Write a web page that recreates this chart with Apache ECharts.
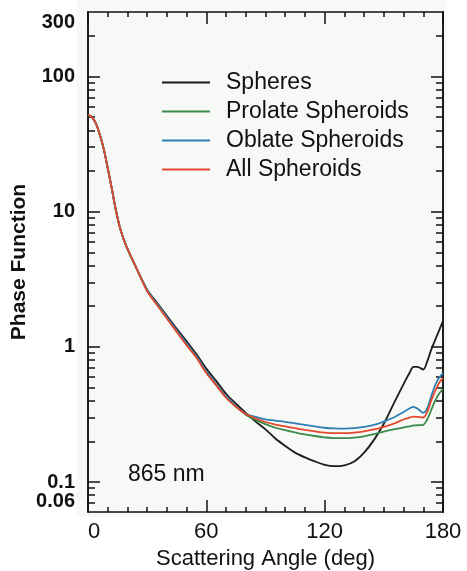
<!DOCTYPE html>
<html>
<head>
<meta charset="utf-8">
<script src="https://cdn.jsdelivr.net/npm/echarts@6.0.0/dist/echarts.min.js"></script>
<style>
  html, body { margin: 0; padding: 0; background: #ffffff; }
  #chart { width: 467px; height: 571px; }
</style>
</head>
<body>
<div id="chart"></div>
<script>
// scattering angles (deg)
var angles = [0, 2, 4, 6, 8, 10, 12, 14, 16, 18, 20, 25, 30, 35, 40, 45, 50, 55, 60, 65, 70, 75, 80,
    85, 90, 95, 100, 105, 110, 115, 120, 125, 130, 135, 140, 145, 150, 155, 160, 163, 165, 167, 170,
    172, 174, 176, 178, 180];

// forward part shared by all curves (0..25 deg)
var forward = [52, 50, 45, 37, 29, 21, 15, 10.5, 7.8, 6.3, 5.3, 3.7];

var spheres = forward.concat([2.65, 2.12, 1.7, 1.36, 1.1, 0.88, 0.69, 0.56, 0.45, 0.38, 0.325,
    0.28, 0.245, 0.21, 0.185, 0.165, 0.152, 0.142, 0.134, 0.131, 0.133, 0.142, 0.165, 0.205, 0.27,
    0.38, 0.53, 0.64, 0.71, 0.71, 0.68, 0.78, 0.95, 1.12, 1.32, 1.55]);

var prolate = forward.concat([2.6, 2.06, 1.64, 1.3, 1.04, 0.84, 0.65, 0.52, 0.425, 0.362, 0.315,
    0.288, 0.268, 0.252, 0.242, 0.233, 0.225, 0.219, 0.214, 0.211, 0.211, 0.213, 0.218, 0.226, 0.236,
    0.245, 0.253, 0.258, 0.262, 0.263, 0.265, 0.29, 0.34, 0.4, 0.45, 0.49]);

var oblate = forward.concat([2.62, 2.08, 1.66, 1.32, 1.06, 0.85, 0.66, 0.53, 0.43, 0.365, 0.32,
    0.303, 0.291, 0.285, 0.279, 0.272, 0.265, 0.258, 0.252, 0.249, 0.248, 0.25, 0.256, 0.265, 0.28,
    0.3, 0.33, 0.35, 0.36, 0.35, 0.325, 0.35, 0.43, 0.52, 0.59, 0.64]);

var allSph = forward.concat([2.58, 2.04, 1.62, 1.29, 1.03, 0.83, 0.64, 0.52, 0.42, 0.36, 0.318,
    0.295, 0.278, 0.266, 0.258, 0.25, 0.243, 0.237, 0.232, 0.23, 0.23, 0.232, 0.237, 0.245, 0.256,
    0.27, 0.29, 0.3, 0.305, 0.303, 0.3, 0.33, 0.4, 0.47, 0.54, 0.59]);

var seriesNames = ['Spheres', 'Prolate Spheroids', 'Oblate Spheroids', 'All Spheroids'];
var seriesColors = ['#1b1b1b', '#3a8a4c', '#2f7fb4', '#e2492c'];

// y ticks (the 0.06 label sits on its own axis so it is not hidden next to 0.1)
var yLabels = [0.1, 1, 10, 100, 300];
var yMinLabel = [0.0601];
var yMajor = [0.1, 1, 10, 100];
var yMinor = [0.07, 0.08, 0.09, 0.2, 0.3, 0.4, 0.5, 0.6, 0.7, 0.8, 0.9,
    2, 3, 4, 5, 6, 7, 8, 9, 20, 30, 40, 50, 60, 70, 80, 90, 200];

function pairs(ys) {
    return angles.map(function (a, i) { return [a, ys[i]]; });
}

var chart = echarts.init(document.getElementById('chart'));

var font = 'Liberation Sans, Arial, Helvetica, sans-serif';
var axisLine = { show: true, onZero: false, lineStyle: { color: '#111', width: 1.5 } };

function yAxisOf(pos, ticks, len, labels, name) {
    return {
        type: 'log',
        position: pos,
        min: 0.06,
        max: 300,
        logBase: 10,
        axisLine: axisLine,
        axisTick: { show: true, inside: true, length: len, customValues: ticks,
            lineStyle: { color: '#111', width: 1.5 } },
        axisLabel: labels ? {
            show: true,
            customValues: labels,
            showMinLabel: true,
            showMaxLabel: true,
            hideOverlap: false,
            margin: 13,
            fontFamily: font,
            fontSize: 20,
            fontWeight: 'bold',
            color: '#111',
            verticalAlign: labels.length === 1 ? 'bottom' : 'middle',
            verticalAlignMaxLabel: labels.length === 1 ? 'bottom' : 'top',
            formatter: function (v) { return String(+(+v).toPrecision(2)); }
        } : { show: false },
        splitLine: { show: false },
        name: name || '',
        nameLocation: 'middle',
        nameRotate: 90,
        nameGap: 58,
        nameMoveOverlap: false,
        nameTextStyle: { fontFamily: font, fontSize: 21, fontWeight: 'bold', color: '#111' }
    };
}

function xAxisOf(pos, withLabel) {
    return {
        type: 'value',
        position: pos,
        min: 0,
        max: 180,
        interval: 60,
        axisLine: axisLine,
        axisTick: { show: true, inside: true, length: 12, lineStyle: { color: '#111', width: 1.5 } },
        minorTick: { show: true, splitNumber: 6, length: 5, lineStyle: { color: '#111', width: 1.5 } },
        axisLabel: withLabel ? {
            show: true,
            margin: 9,
            fontFamily: font,
            fontSize: 22,
            color: '#111',
            alignMinLabel: 'left'
        } : { show: false },
        splitLine: { show: false },
        name: withLabel ? 'Scattering Angle (deg)' : '',
        nameLocation: 'middle',
        nameGap: 31,
        nameTextStyle: { fontFamily: font, fontSize: 22, color: '#111', verticalAlign: 'top' }
    };
}

var option = {
    backgroundColor: '#ffffff',
    animation: false,
    graphic: [
        {
            type: 'rect', z: -10, silent: true,
            shape: { x: 77, y: 0, width: 370, height: 517 },
            style: { fill: '#f6f9f6' }
        },
        {
            type: 'text', left: 128, top: 463, z: 10,
            style: { text: '865 nm', fontFamily: font, fontSize: 23, fill: '#111' }
        }
    ],
    grid: { left: 88, right: 24, top: 12, bottom: 59, containLabel: false, outerBoundsMode: 'none' },
    legend: {
        orient: 'vertical',
        left: 157,
        top: 66,
        itemWidth: 48,
        itemHeight: 2,
        itemGap: 6,
        icon: 'rect',
        data: seriesNames,
        textStyle: { fontFamily: font, fontSize: 23, color: '#111', lineHeight: 22, padding: [0, 0, 0, 11] }
    },
    xAxis: [xAxisOf('bottom', true), xAxisOf('top', false)],
    yAxis: [
        yAxisOf('left', yMajor, 12, yLabels, 'Phase Function'),
        yAxisOf('left', yMinor, 7, yMinLabel, ''),
        yAxisOf('right', yMajor, 12, null, ''),
        yAxisOf('right', yMinor, 7, null, '')
    ],
    series: [spheres, prolate, oblate, allSph].map(function (ys, i) {
        return {
            name: seriesNames[i],
            type: 'line',
            xAxisIndex: 0,
            yAxisIndex: 0,
            data: pairs(ys),
            smooth: 0.3,
            symbol: 'none',
            color: seriesColors[i],
            lineStyle: { width: 1.8, color: seriesColors[i] },
            z: i === 0 ? 3 : 2 + i
        };
    })
};

chart.setOption(option);
window.addEventListener('resize', function () {
    chart.resize();
});
</script>
</body>
</html>
